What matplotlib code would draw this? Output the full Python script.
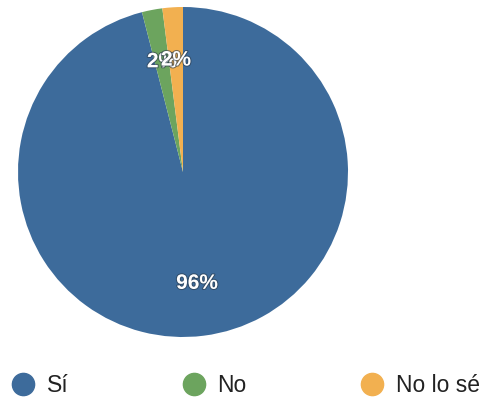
import matplotlib
matplotlib.use("Agg")
import matplotlib.pyplot as plt
import matplotlib.patheffects as pe
from matplotlib.lines import Line2D

plt.rcParams["font.family"] = ["Liberation Sans", "DejaVu Sans"]

labels = ["Sí", "No", "No lo sé"]
values = [96, 2, 2]
colours = ["#3d6b9b", "#6ca45e", "#f2b050"]

fig = plt.figure(figsize=(4.82, 4.0), dpi=100)
ax = fig.add_axes([18 / 482, 63 / 400, 330 / 482, 330 / 400])

wedges, texts, autotexts = ax.pie(
    values, colors=colours, startangle=90, counterclock=False,
    autopct="%d%%", pctdistance=0.68,
    wedgeprops={"linewidth": 0},
    textprops={"color": "white", "fontsize": 15, "fontweight": "bold"},
)
for t in autotexts:
    t.set_path_effects([pe.Stroke(linewidth=1.5, foreground="#2a3a4a", alpha=0.6), pe.Normal()])
ax.set_xlim(-1, 1)
ax.set_ylim(-1, 1)
ax.set_aspect("auto")

handles = [Line2D([], [], marker="o", linestyle="none", markersize=16,
                  markerfacecolor=c, markeredgecolor=c) for c in colours]
fig.legend(handles, labels, loc="center left", bbox_to_anchor=(-0.019, 0.035),
           ncol=3, frameon=False, fontsize=16.5, handletextpad=0.55,
           columnspacing=4.95, handlelength=1.0, labelcolor="#222222")

fig.savefig("out.png", dpi=100, facecolor="white")
